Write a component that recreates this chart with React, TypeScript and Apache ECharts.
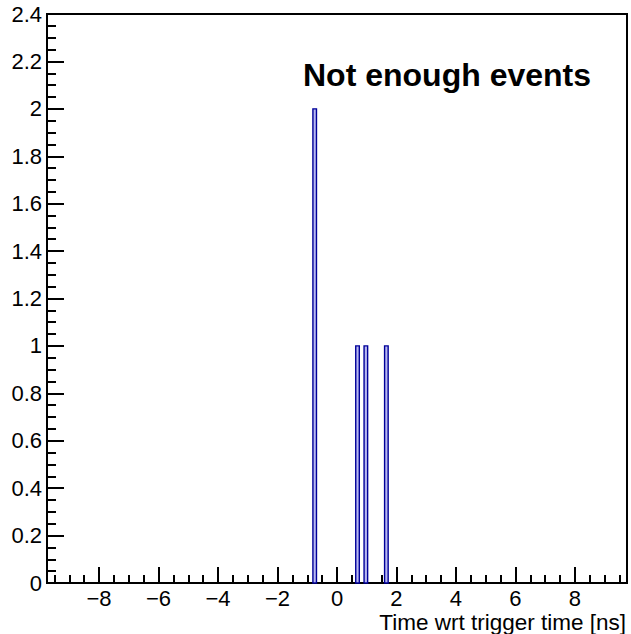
import React, { useEffect, useRef } from "react";
import * as echarts from "echarts";

// Histogram data (bin lower edges in ns, bin width, counts)
const binLow: number[] = [-0.81, 0.63, 0.91, 1.6];
const binWidth = 0.12;
const counts: number[] = [2, 1, 1, 1];

const xMajorTicks: number[] = [-8, -6, -4, -2, 0, 2, 4, 6, 8];
const xMinorTicks: number[] = [
  -9.5, -9, -8.5, -8, -7.5, -7, -6.5, -6, -5.5, -5, -4.5, -4, -3.5, -3, -2.5, -2, -1.5, -1, -0.5,
  0, 0.5, 1, 1.5, 2, 2.5, 3, 3.5, 4, 4.5, 5, 5.5, 6, 6.5, 7, 7.5, 8, 8.5, 9, 9.5,
];
const xRange: number[] = [-9.75, 9.75];
const yRange: number[] = [0, 2.4];

const titleText = "Not enough events";
const xTitle = "Time wrt trigger time [ns]";

const FONT = "'Liberation Sans', Arial, Helvetica, sans-serif";

export default function App() {
  const ref = useRef<HTMLDivElement>(null);
  useEffect(() => {
    if (!ref.current) return;
    const chart = echarts.init(ref.current, undefined, { renderer: "svg" });
    const data = binLow.map((lo, i) => [lo, lo + binWidth, counts[i]]);
    const fmt = (v: number) => (v < 0 ? "\u2212" + Math.abs(v) : String(v));
    chart.setOption({
      animation: false,
      backgroundColor: "#ffffff",
      grid: {
        left: 47,
        top: 14,
        width: 580,
        height: 569,
        show: true,
        borderColor: "#000",
        borderWidth: 2,
        backgroundColor: "transparent",
      },
      xAxis: [
        {
          type: "value",
          min: xRange[0],
          max: xRange[1],
          position: "bottom",
          axisLine: { show: true, onZero: false, lineStyle: { color: "#000", width: 2 } },
          axisTick: {
            show: true,
            inside: true,
            length: 16,
            customValues: xMajorTicks,
            lineStyle: { color: "#000", width: 2 },
          },
          axisLabel: {
            show: true,
            customValues: xMajorTicks,
            formatter: fmt,
            color: "#000",
            fontSize: 22,
            lineHeight: 18,
            fontFamily: FONT,
            margin: 6,
          },
          splitLine: { show: false },
        },
        {
          type: "value",
          min: xRange[0],
          max: xRange[1],
          position: "bottom",
          offset: 0,
          axisLine: { show: false, onZero: false },
          axisTick: {
            show: true,
            inside: true,
            length: 8,
            customValues: xMinorTicks,
            lineStyle: { color: "#000", width: 2 },
          },
          axisLabel: { show: false },
          splitLine: { show: false },
        },
      ],
      yAxis: {
        type: "value",
        min: yRange[0],
        max: yRange[1],
        interval: 0.2,
        position: "left",
        axisLine: { show: true, onZero: false, lineStyle: { color: "#000", width: 2 } },
        axisTick: { show: true, inside: true, length: 17, lineStyle: { color: "#000", width: 2 } },
        minorTick: { show: true, splitNumber: 4, length: 9, lineStyle: { color: "#000", width: 2 } },
        axisLabel: {
          color: "#000",
          fontSize: 22,
          fontFamily: FONT,
          margin: 5,
          formatter: (v: number) => String(Math.round(v * 10) / 10),
        },
        splitLine: { show: false },
        minorSplitLine: { show: false },
      },
      series: [
        {
          type: "custom",
          xAxisIndex: 0,
          yAxisIndex: 0,
          data,
          renderItem: (params: any, api: any) => {
            const x0 = api.value(0);
            const x1 = api.value(1);
            const y = api.value(2);
            const p0 = api.coord([x0, y]);
            const p1 = api.coord([x1, 0]);
            return {
              type: "rect",
              shape: { x: p0[0], y: p0[1], width: p1[0] - p0[0], height: p1[1] - p0[1] },
              style: { fill: "#b8b8f0", stroke: "#000099", lineWidth: 1.4 },
            };
          },
        },
      ],
      graphic: [
        {
          type: "text",
          left: 303,
          top: 59,
          style: {
            text: titleText,
            fill: "#000",
            font: `bold 32px ${FONT}`,
          },
        },
        {
          type: "text",
          right: 5,
          top: 611,
          style: {
            text: xTitle,
            fill: "#000",
            font: `22.5px ${FONT}`,
            lineHeight: 20,
          },
        },
      ],
    });
    return () => chart.dispose();
  }, []);
  return (
    <div
      ref={ref}
      style={{ position: "fixed", left: 0, top: 0, width: 631, height: 634 }}
    />
  );
}
